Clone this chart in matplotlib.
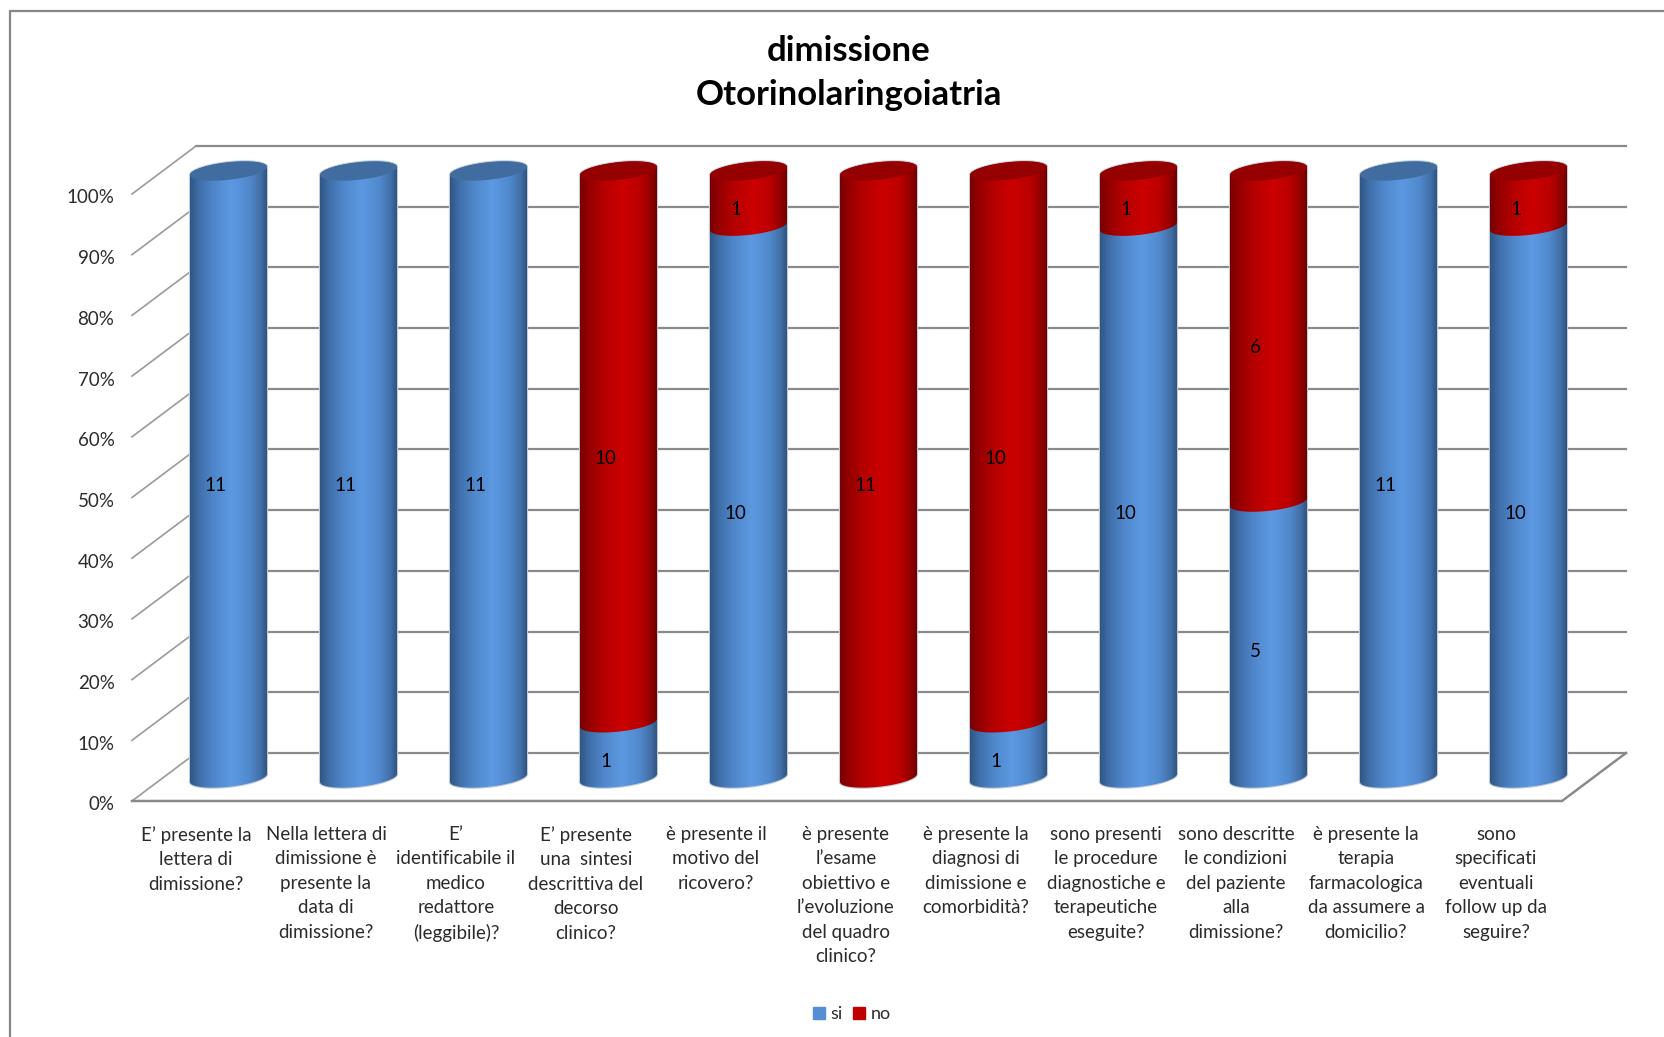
import numpy as np
import matplotlib
matplotlib.use("Agg")
import matplotlib.pyplot as plt
from matplotlib.colors import LinearSegmentedColormap
from matplotlib.lines import Line2D
from matplotlib.patches import Patch, Polygon

# ==========================================
# dati
# ==========================================
CATEGORIES = [
    "E’ presente la\nlettera di\ndimissione?",
    "Nella lettera di\ndimissione è\npresente la\ndata di\ndimissione?",
    "E’\nidentificabile il\nmedico\nredattore\n(leggibile)?",
    "E’ presente\nuna  sintesi\ndescrittiva del\ndecorso\nclinico?",
    "è presente il\nmotivo del\nricovero?",
    "è presente\nl’esame\nobiettivo e\nl’evoluzione\ndel quadro\nclinico?",
    "è presente la\ndiagnosi di\ndimissione e\ncomorbidità?",
    "sono presenti\nle procedure\ndiagnostiche e\nterapeutiche\neseguite?",
    "sono descritte\nle condizioni\ndel paziente\nalla\ndimissione?",
    "è presente la\nterapia\nfarmacologica\nda assumere a\ndomicilio?",
    "sono\nspecificati\neventuali\nfollow up da\nseguire?",
]
SI = [11, 11, 11, 1, 10, 0, 1, 10, 5, 11, 10]
NO = [0, 0, 0, 10, 1, 11, 10, 1, 6, 0, 1]
Y_TICKS = [0, 10, 20, 30, 40, 50, 60, 70, 80, 90, 100]

# ==========================================
# stile
# ==========================================
W, H = 1664, 1037
X0, XS = 228.5, 130.0   # pixel della prima barra, passo tra le barre
Y0, YS = 778.0, 6.07    # pixel di 0%, pixel per punto percentuale
HALF_W = 38.5 / XS
ELL_B, ELL_TILT = 1.45, 0.66

BLUE = LinearSegmentedColormap.from_list("blue", [
    (0, "#2f5685"), (0.12, "#3f6fa8"), (0.3, "#4f86ca"), (0.55, "#5c99e2"),
    (0.78, "#5088cc"), (0.92, "#416fa6"), (1, "#2f5482")])
RED = LinearSegmentedColormap.from_list("red", [
    (0, "#780000"), (0.12, "#960000"), (0.3, "#b40000"), (0.55, "#cc0000"),
    (0.78, "#bb0000"), (0.92, "#930000"), (1, "#700000")])
TOP_BLUE, TOP_RED = "#416c9f", "#950000"
GRID = "#8a8a8a"
TEXT = "#2b2b2b"

plt.rcParams["font.family"] = ["Lato", "DejaVu Sans"]


def arc(cx, y, t):
    return np.column_stack([cx + HALF_W * np.cos(t),
                            y + ELL_B * np.sin(t) + ELL_TILT * np.cos(t)])


def draw_segment(ax, cx, lo, hi, cmap):
    low = arc(cx, lo, np.linspace(np.pi, 2 * np.pi, 60))
    up = arc(cx, hi, np.linspace(0, np.pi, 60))
    outline = np.vstack([low, up])
    # alone chiaro attorno al cilindro
    ax.add_patch(Polygon(outline, closed=True, fc="none", ec="#c4ccd8", lw=1.6, zorder=2))
    clip = Polygon(outline, closed=True, transform=ax.transData)
    grad = np.linspace(0, 1, 256).reshape(1, -1)
    im = ax.imshow(grad, extent=[cx - HALF_W, cx + HALF_W, lo - 3, hi + 3], aspect="auto",
                   cmap=cmap, vmin=0, vmax=1, interpolation="bilinear", zorder=3)
    im.set_clip_path(clip)


def plot_chart():
    fig = plt.figure(figsize=(W / 100, H / 100), dpi=100, facecolor="white")
    ax = fig.add_axes([0, 0, 1, 1])
    ax.axis("off")

    # parete di fondo, griglia e pavimento
    dx, dy = 64.0 / XS, 48.0 / YS   # profondita del grafico 3D
    back_l, back_r = (196 - X0) / XS, (1626 - X0) / XS
    back_shift = (Y0 - 753) / YS    # 0% sulla parete di fondo
    for v in Y_TICKS:
        yb = v + back_shift
        ax.plot([back_l, back_r], [yb, yb], color=GRID, lw=1.6, zorder=1)
        ax.plot([back_l, back_l - dx], [yb, yb - dy], color="#9a9a9a", lw=1.2, zorder=1)
        ax.text((114.5 - X0) / XS, yb - dy - 0.65, f"{v}%", ha="right", va="center",
                fontsize=13.5, color=TEXT)
    floor_y = back_shift - dy
    ax.plot([back_l - dx, back_r - dx, back_r], [floor_y, floor_y, back_shift],
            color=GRID, lw=1.8, zorder=1)

    # barre cilindriche
    for i, (s, n) in enumerate(zip(SI, NO)):
        tot = s + n
        p = 100.0 * s / tot
        if s > 0:
            draw_segment(ax, i, 0, p, BLUE)
            ax.text(i - 13 / XS, p / 2 - 1.85, str(s), ha="center", va="center",
                    fontsize=13.5, color="black", zorder=5)
        if n > 0:
            draw_segment(ax, i, p, 100, RED)
            ax.text(i - 13 / XS, (p + 100) / 2 - 1.85, str(n), ha="center", va="center",
                    fontsize=13.5, color="black", zorder=5)
        cap = arc(i, 100, np.linspace(0, 2 * np.pi, 120))
        ax.fill(cap[:, 0], cap[:, 1], color=TOP_RED if n > 0 else TOP_BLUE, lw=0, zorder=4)

    # etichette categorie
    for i, lab in enumerate(CATEGORIES):
        ax.text(i - 0.25, floor_y - (827 - 802) / YS, lab, ha="center", va="top",
                fontsize=13.5, color=TEXT, linespacing=1.53)

    ax.text((849 - X0) / XS, (Y0 - 73) / YS, "dimissione\nOtorinolaringoiatria", ha="center",
            va="center", fontsize=25, fontweight="bold", color="black", linespacing=1.45)

    handles = [Patch(color="#558ed5", label="si"), Patch(color="#c00000", label="no")]
    ax.legend(handles=handles, loc="center", ncol=2, frameon=False, fontsize=13,
              bbox_to_anchor=(852 / W, 1 - 1014 / H), handlelength=0.65, handleheight=0.65,
              handletextpad=0.3, columnspacing=0.6, labelcolor=TEXT)

    ax.set_xlim(-X0 / XS, (W - X0) / XS)
    ax.set_ylim((Y0 - H) / YS, Y0 / YS)

    # cornice del grafico (solo alto e sinistra visibili)
    fig.add_artist(Line2D([10 / W, 10 / W, 1], [0, 1 - 11 / H, 1 - 11 / H], color="#868686", lw=1.6))

    fig.savefig("out.png", dpi=100)


if __name__ == "__main__":
    plot_chart()
